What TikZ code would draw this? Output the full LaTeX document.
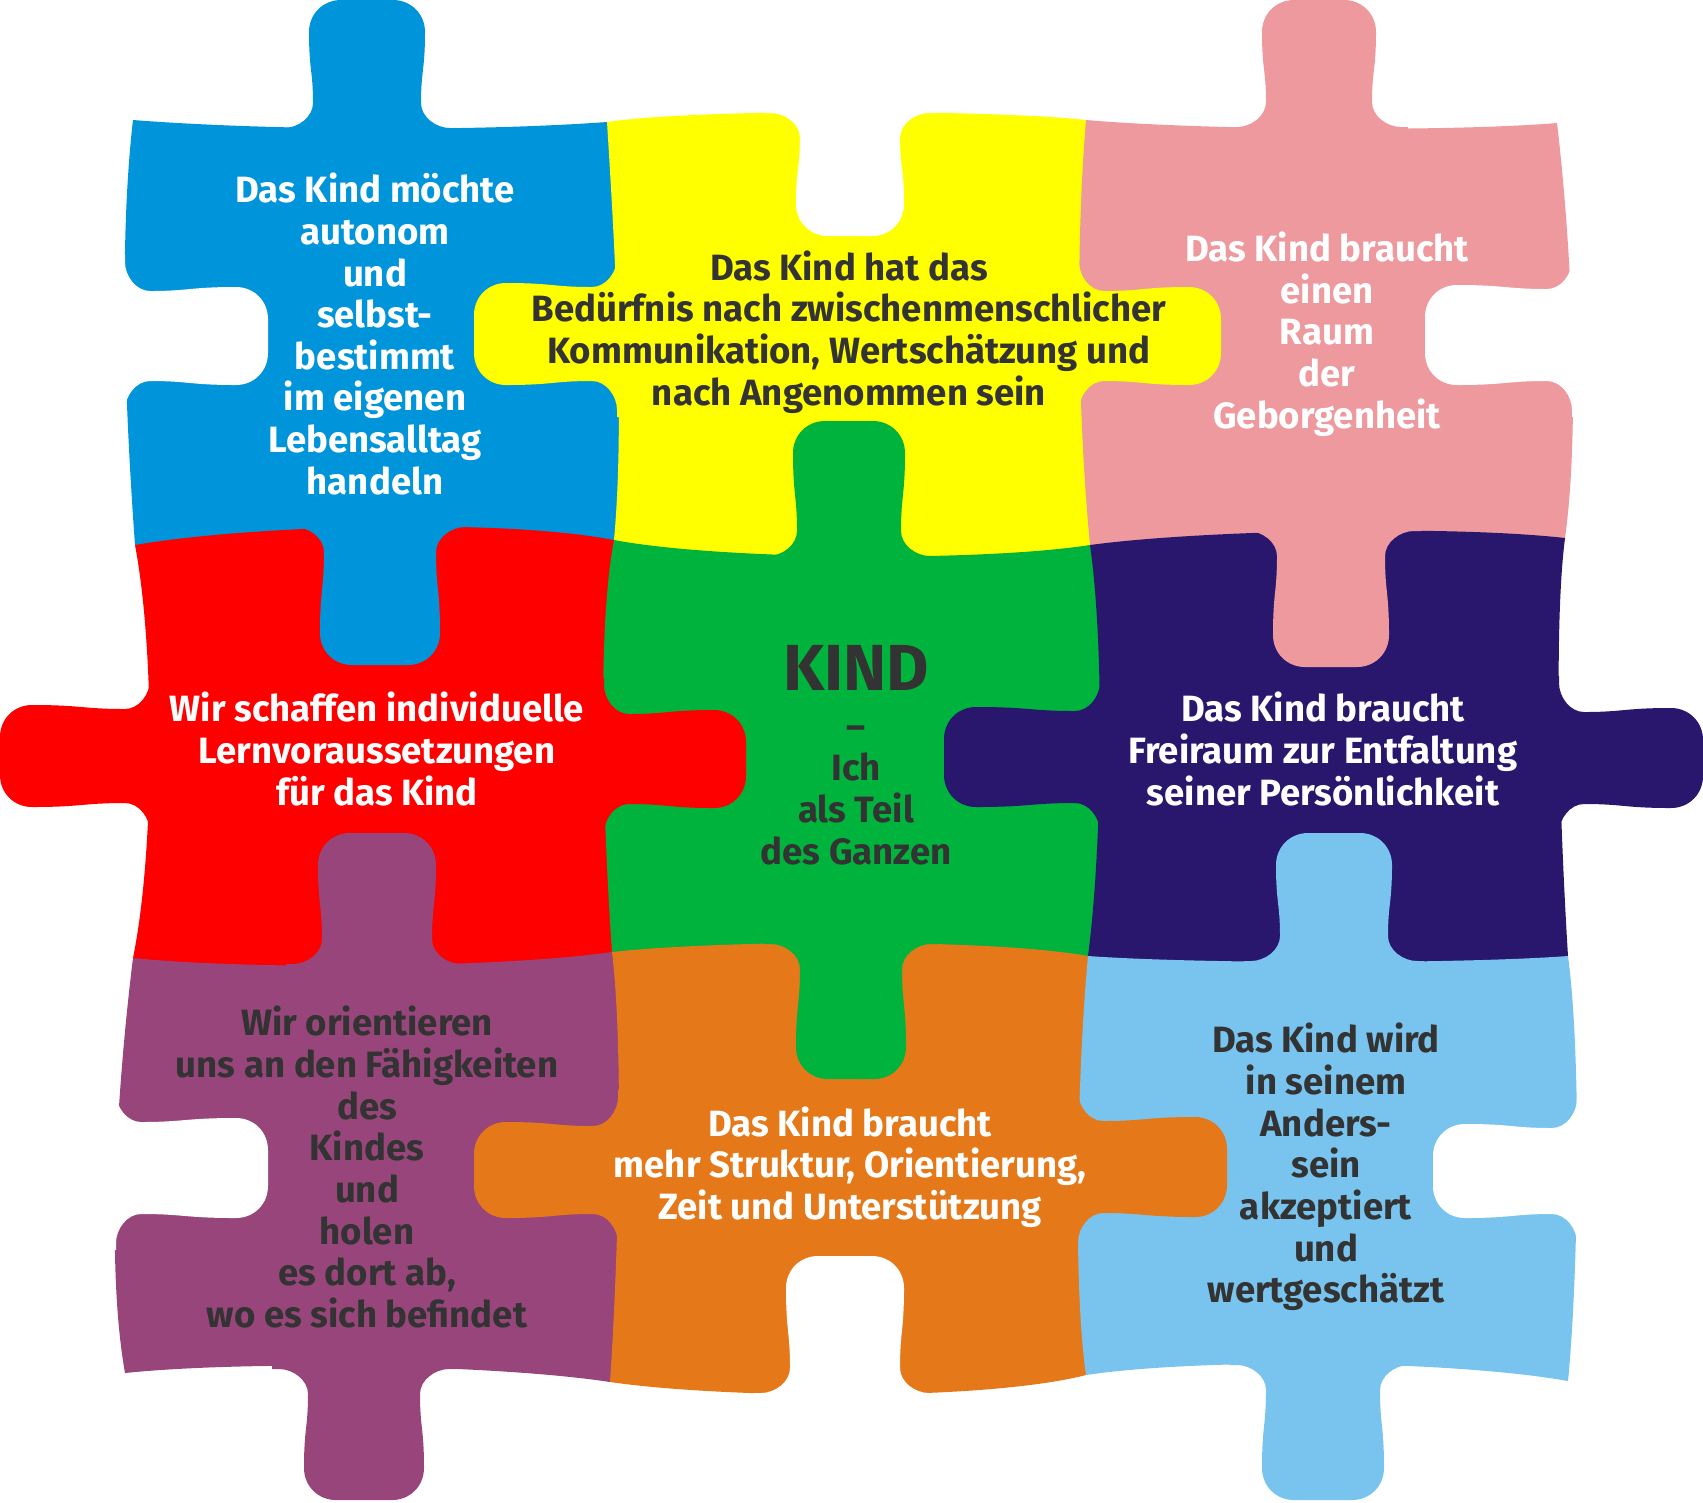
\documentclass[tikz,border=0pt]{standalone}
\usepackage{fontspec}
\setmainfont{Fira Sans}
\definecolor{blueC}{RGB}{0,148,218}
\definecolor{yellowC}{RGB}{255,255,0}
\definecolor{pinkC}{RGB}{237,153,158}
\definecolor{redC}{RGB}{255,0,0}
\definecolor{greenC}{RGB}{0,179,60}
\definecolor{navyC}{RGB}{41,23,110}
\definecolor{purpleC}{RGB}{151,69,122}
\definecolor{orangeC}{RGB}{229,120,25}
\definecolor{lblueC}{RGB}{120,196,238}
\definecolor{darkC}{RGB}{51,51,51}
\tikzset{
  pics/tab/.style n args={3}{code={
    \fill[#3] ({-#1-32},-25) -- ({-#1-32},0) -- ({-#1-25},0)
      .. controls ({-#1-11},0) and ({-#1+4},11) .. ({-#1+4},25)
      .. controls ({-#1+4},{0.45*#2}) and ({-#1},{0.45*#2}) .. ({-#1},{#2-32})
      .. controls ({-#1},{#2-14}) and ({-#1+14},{#2}) .. ({-#1+32},{#2})
      -- ({#1-32},{#2})
      .. controls ({#1-14},{#2}) and ({#1},{#2-14}) .. ({#1},{#2-32})
      .. controls ({#1},{0.45*#2}) and ({#1-4},{0.45*#2}) .. ({#1-4},25)
      .. controls ({#1-4},11) and ({#1+11},0) .. ({#1+25},0)
      -- ({#1+32},0) -- ({#1+32},-25) -- cycle;
  }},
  txt/.style={align=center, inner sep=0pt, font=\fontsize{10.4}{11.84}\selectfont\bfseries},
  light/.style={txt, text=white},
  darktxt/.style={txt, text=darkC}
}
\begin{document}
\begin{tikzpicture}[x=0.01cm,y=-0.01cm]
\useasboundingbox (0,0) rectangle (1703,1502);
% ---- bodies (drawn row by row, later pieces define shared edges)
\fill[blueC] (133,120) .. controls (260,130) and (470,132) .. (607,122) -- (652,167) -- (659,585) -- (180,590) -- (135,545) .. controls (126,420) and (118,250) .. (133,120) -- cycle;
\fill[yellowC] (607,122) .. controls (700,108) and (1000,110) .. (1086,120) -- (1131,165) -- (1135,590) -- (659,585) -- (614,540) .. controls (625,420) and (615,250) .. (607,122) -- cycle;
\fill[pinkC] (1086,120) .. controls (1200,130) and (1450,132) .. (1557,123) .. controls (1572,250) and (1580,430) .. (1565,538) -- (1555,583) -- (1135,590) -- (1090,545) .. controls (1078,420) and (1075,250) .. (1086,120) -- cycle;
\fill[redC] (135,545) .. controls (250,525) and (500,518) .. (614,540) -- (659,585) -- (657,997) -- (178,1003) -- (133,958) .. controls (155,850) and (155,650) .. (135,545) -- cycle;
\fill[greenC] (614,540) .. controls (720,560) and (980,562) .. (1090,545) -- (1135,590) -- (1133,1001) -- (657,997) -- (612,952) .. controls (605,850) and (595,640) .. (614,540) -- cycle;
\fill[navyC] (1090,545) .. controls (1200,530) and (1450,525) .. (1565,538) .. controls (1552,640) and (1562,860) .. (1568,956) -- (1563,1001) -- (1133,1001) -- (1088,956) .. controls (1102,850) and (1105,650) .. (1090,545) -- cycle;
\fill[purpleC] (133,958) .. controls (250,970) and (500,968) .. (612,952) -- (657,997) -- (655,1340) -- (610,1382) .. controls (500,1365) and (250,1360) .. (125,1373) .. controls (105,1260) and (118,1080) .. (133,958) -- cycle;
\fill[orangeC] (612,952) .. controls (720,940) and (990,938) .. (1088,956) -- (1133,1001) -- (1131,1330) -- (1086,1375) .. controls (980,1402) and (720,1398) .. (610,1382) .. controls (617,1280) and (625,1060) .. (612,952) -- cycle;
\fill[lblueC] (1088,956) .. controls (1200,964) and (1460,964) .. (1568,956) .. controls (1582,1060) and (1578,1280) .. (1568,1381) .. controls (1450,1360) and (1200,1358) .. (1086,1375) .. controls (1072,1280) and (1078,1060) .. (1088,956) -- cycle;
% ---- tabs on horizontal edges
\pic[rotate=180] at (367,128) {tab={58}{128}{blueC}};
\pic at (850,113) {tab={54}{123}{white}};
\pic[rotate=180] at (1319,127) {tab={57}{127}{pinkC}};
\pic at (380,527) {tab={60}{138}{blueC}};
\pic[rotate=180] at (849,556) {tab={56}{135}{greenC}};
\pic at (1331,531) {tab={58}{136}{pinkC}};
\pic[rotate=180] at (377,964) {tab={59}{131}{purpleC}};
\pic at (851,944) {tab={55}{135}{greenC}};
\pic[rotate=180] at (1334,961) {tab={58}{128}{lblueC}};
\pic at (364,1369) {tab={60}{131}{purpleC}};
\pic[rotate=180] at (845,1393) {tab={59}{137}{white}};
\pic at (1323,1365) {tab={61}{135}{lblueC}};
% ---- tabs on vertical edges
\pic[rotate=90] at (125,336) {tab={49}{143}{white}};
\pic[rotate=-90] at (150,756) {tab={51}{150}{redC}};
\pic[rotate=90] at (116,1168) {tab={50}{152}{white}};
\pic[rotate=-90] at (617,334) {tab={51}{143}{yellowC}};
\pic[rotate=90] at (604,759) {tab={49}{142}{redC}};
\pic[rotate=-90] at (618,1170) {tab={48}{144}{orangeC}};
\pic[rotate=90] at (1079,336) {tab={49}{142}{yellowC}};
\pic[rotate=-90] at (1100,757) {tab={50}{156}{navyC}};
\pic[rotate=90] at (1078,1167) {tab={50}{149}{orangeC}};
\pic[rotate=-90] at (1572,335) {tab={50}{147}{white}};
\pic[rotate=90] at (1559,758) {tab={50}{144}{navyC}};
\pic[rotate=-90] at (1577,1171) {tab={47}{144}{white}};
% ---- texts
\node[light] (tblue) at (375,334) {Das Kind möchte\\autonom\\und\\selbst-\\bestimmt\\im eigenen\\Lebensalltag\\handeln};
\node[darktxt] (tyellow) at (849,332) {Das Kind hat das\\Bedürfnis nach zwischenmenschlicher\\Kommunikation, Wertschätzung und\\nach Angenommen sein};
\node[light] (tpink) at (1327,334) {Das Kind braucht\\einen\\Raum\\der\\Geborgenheit};
\node[light] (tred) at (377,749) {Wir schaffen individuelle\\Lernvoraussetzungen\\für das Kind};
\node[darktxt] (tgreen) at (856,755) {{\fontsize{18.5}{20}\selectfont KIND}\\[2pt]–\\Ich\\als Teil\\des Ganzen};
\node[light] (tnavy) at (1323,749) {Das Kind braucht\\Freiraum zur Entfaltung\\seiner Persönlichkeit};
\node[darktxt] (tpurple) at (367,1167) {Wir orientieren\\uns an den Fähigkeiten\\des\\Kindes\\und\\holen\\es dort ab,\\wo es sich befindet};
\node[light] (torange) at (850,1167) {Das Kind braucht\\mehr Struktur, Orientierung,\\Zeit und Unterstützung};
\node[darktxt] (tlblue) at (1326,1167) {Das Kind wird\\in seinem\\Anders-\\sein\\akzeptiert\\und\\wertgeschätzt};
\end{tikzpicture}
\end{document}
